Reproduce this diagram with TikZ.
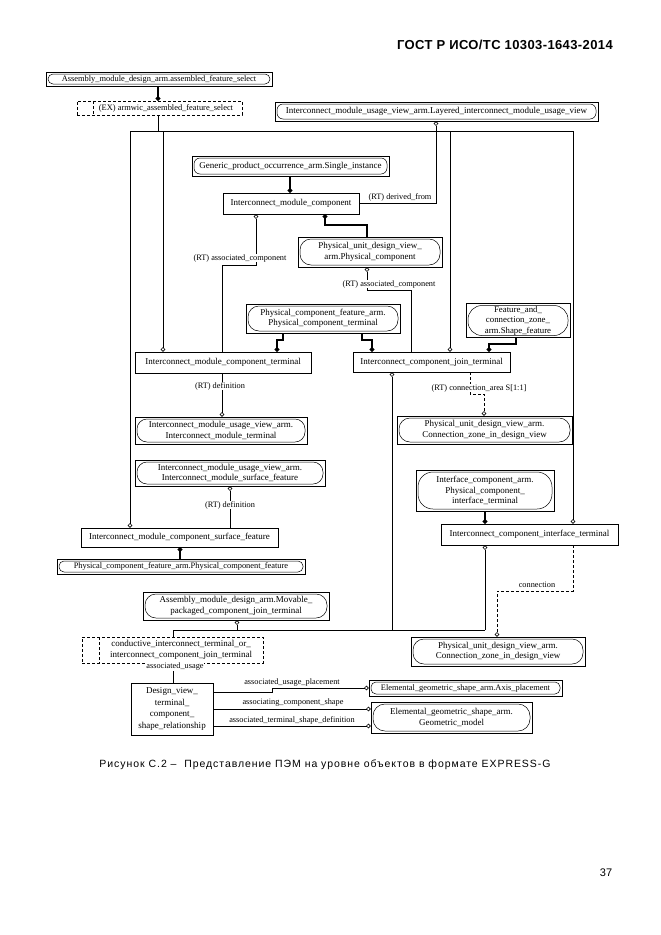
\documentclass[tikz,border=0pt]{standalone}
\usepackage{fontspec}
\setmainfont{Liberation Serif}
\newfontfamily\hdrfont[LetterSpace=3]{Liberation Sans}
\newfontfamily\pgfont{Liberation Sans}
\newfontfamily\capfont[LetterSpace=9]{Liberation Sans}
\usetikzlibrary{arrows.meta}
\begin{document}
\begin{tikzpicture}[x=1pt,y=-1pt,
  every node/.style={font=\fontsize{9}{10.5}\selectfont, inner sep=0pt, align=center},
  ent/.style={draw, line width=0.6pt, rectangle},
  refb/.style={draw, line width=0.6pt, rectangle,
    path picture={\draw[line width=0.5pt, rounded corners=#1]
      ([shift={(2pt,-2pt)}]path picture bounding box.north west) rectangle
      ([shift={(-2pt,2pt)}]path picture bounding box.south east);}},
  selb/.style={draw, line width=0.6pt, dash pattern=on 3pt off 2pt, rectangle,
    path picture={\draw[line width=0.6pt, dash pattern=on 3pt off 2pt]
      ([xshift=#1]path picture bounding box.north west) --
      ([xshift=#1]path picture bounding box.south west);}},
  thin/.style={line width=0.6pt},
  thk/.style={line width=1.5pt},
  dsh/.style={line width=0.6pt, dash pattern=on 3pt off 2pt},
  oc/.style={-{Circle[open,length=4.5pt,width=4.5pt]}},
  lbl/.style={font=\fontsize{8.3}{9}\selectfont, fill=white, inner sep=0.6pt},
  small/.style={font=\fontsize{8.4}{10}\selectfont}
]
\useasboundingbox[fill=white] (0,0) rectangle (661,935);

% header, caption, page number
\node[font=\hdrfont\bfseries\fontsize{13}{15}\selectfont, anchor=east] (hdr) at (613,45) {ГОСТ Р ИСО/ТС 10303-1643-2014};
\node[font=\capfont\fontsize{10.5}{12}\selectfont] (cap) at (325,765) {Рисунок С.2 –\ \ Представление ПЭМ на уровне объектов в формате EXPRESS-G};
\node[font=\pgfont\fontsize{11}{12}\selectfont] (pg) at (606,873) {37};

% boxes
\node[refb=5pt, small, minimum width=226pt, minimum height=14pt] (amd) at (159,79) {Assembly\_module\_design\_arm.assembled\_feature\_select};
\node[selb=16pt, minimum width=165pt, minimum height=14pt] (ex) at (159.5,108) {};
\node[small] (ext) at (166,108) {(EX) armwic\_assembled\_feature\_select};
\node[refb=6pt, minimum width=323pt, minimum height=19pt] (lay) at (436.5,111.5) {Interconnect\_module\_usage\_view\_arm.Layered\_interconnect\_module\_usage\_view};
\node[refb=6pt, minimum width=197pt, minimum height=20pt] (gpo) at (290.5,166) {Generic\_product\_occurrence\_arm.Single\_instance};
\node[ent, minimum width=136pt, minimum height=21pt] (imc) at (291,203.5) {Interconnect\_module\_component};
\node[refb=11pt, minimum width=144pt, minimum height=30pt] (pudv) at (370,252) {Physical\_unit\_design\_view\_\\arm.Physical\_component};
\node[refb=11pt, minimum width=154pt, minimum height=29pt] (pcft) at (323,318.5) {Physical\_component\_feature\_arm.\\Physical\_component\_terminal};
\node[refb=14pt, minimum width=104pt, minimum height=34pt, font=\fontsize{8.8}{10.5}\selectfont] (fcz) at (518,320.5) {Feature\_and\_\\connection\_zone\_\\arm.Shape\_feature};
\node[ent, minimum width=176pt, minimum height=21pt] (imct) at (223,362.5) {Interconnect\_module\_component\_terminal};
\node[ent, minimum width=157pt, minimum height=20pt] (icjt) at (431.5,362) {Interconnect\_component\_join\_terminal};
\node[refb=10pt, minimum width=172pt, minimum height=27pt] (imut) at (221,430.5) {Interconnect\_module\_usage\_view\_arm.\\Interconnect\_module\_terminal};
\node[refb=11pt, minimum width=175pt, minimum height=28pt] (cz1) at (484.5,430) {Physical\_unit\_design\_view\_arm.\\Connection\_zone\_in\_design\_view};
\node[refb=10pt, minimum width=190pt, minimum height=26pt] (imsf) at (230,473) {Interconnect\_module\_usage\_view\_arm.\\Interconnect\_module\_surface\_feature};
\node[refb=15pt, minimum width=138pt, minimum height=41pt] (ica) at (485,490.5) {Interface\_component\_arm.\\Physical\_component\_\\interface\_terminal};
\node[ent, minimum width=197pt, minimum height=19pt] (imcsf) at (179.5,537.5) {Interconnect\_module\_component\_surface\_feature};
\node[ent, minimum width=177pt, minimum height=21pt] (icit) at (529.5,534.5) {Interconnect\_component\_interface\_terminal};
\node[refb=5pt, small, minimum width=248pt, minimum height=15pt] (pcfp) at (181,566.5) {Physical\_component\_feature\_arm.Physical\_component\_feature};
\node[refb=11pt, minimum width=186pt, minimum height=28pt] (mov) at (236,606) {Assembly\_module\_design\_arm.Movable\_\\packaged\_component\_join\_terminal};
\node[selb=17pt, minimum width=181pt, minimum height=26pt] (sel) at (172.5,650) {};
\node (selt) at (181,650) {conductive\_interconnect\_terminal\_or\_\\interconnect\_component\_join\_terminal};
\node[refb=11pt, minimum width=174pt, minimum height=29pt] (cz2) at (498,651.5) {Physical\_unit\_design\_view\_arm.\\Connection\_zone\_in\_design\_view};
\node[ent, minimum width=82pt, minimum height=52pt, font=\fontsize{9}{11.5}\selectfont] (dvt) at (172,709) {Design\_view\_\\terminal\_\\component\_\\shape\_relationship};
\node[refb=5pt, small, minimum width=193pt, minimum height=16pt] (egsap) at (465.5,688) {Elemental\_geometric\_shape\_arm.Axis\_placement};
\node[refb=12pt, minimum width=161pt, minimum height=31pt] (egsgm) at (451.5,717.5) {Elemental\_geometric\_shape\_arm.\\Geometric\_model};

% thick supertype/subtype lines
\draw[thk,oc] (amd.south -| 158,0) -- (ex.north -| 158,0);
\draw[thk,oc] (gpo.south -| 290,0) -- (imc.north -| 290,0);
\draw[thk,oc] (pudv.north -| 367,0) |- (325,225) -- (imc.south -| 325,0);
\draw[thk,oc] (pcft.south -| 283,0) |- (277,340) -- (imct.north -| 277,0);
\draw[thk,oc] (pcft.south -| 362,0) |- (372,340) -- (icjt.north -| 372,0);
\draw[thk,oc] (fcz.south -| 516,0) |- (489,344) -- (icjt.north -| 489,0);
\draw[thk,oc] (pcfp.north -| 180,0) -- (imcsf.south -| 180,0);
\draw[thk,oc] (ica.south -| 485,0) -- (icit.north -| 485,0);

% top bus from select
\coordinate (tb) at (158,131);
\coordinate (tbl) at (130,131);
\coordinate (tbr) at (573,131);
\draw[thin] (ex.south -| tb) -- (tb);
\draw[thin] (tbl) -- (tbr);
\draw[thin,oc] (tbl) -- (imcsf.north -| tbl);
\draw[thin,oc] (163,131) -- (imct.north -| 163,0);
\draw[thin,oc] (450,131) -- (icjt.north -| 450,0);
\draw[thin,oc] (tbr) -- (icit.north -| tbr);

% attributes
\draw[thin,oc] (imc.east) -| (lay.south -| 436,0);
\node[lbl] (l1) at (400,197) {(RT) derived\_from};
\draw[thin,oc] (imct.north -| 222,0) |- (256,265) -- (imc.south -| 256,0);
\node[lbl] (l2) at (240,258) {(RT) associated\_component};
\draw[thin,oc] (icjt.north -| 411,0) |- (367,290) -- (pudv.south -| 367,0);
\node[lbl] (l3) at (389,284) {(RT) associated\_component};
\draw[thin,oc] (imct.south -| 222,0) -- (imut.north -| 222,0);
\node[lbl] (l4) at (220,386) {(RT) definition};
\draw[dsh,oc] (icjt.south -| 470,0) |- (484,394) -- (cz1.north -| 484,0);
\node[lbl] (l5) at (479,388) {(RT) connection\_area S[1:1]};
\draw[thin,oc] (imcsf.north -| 230,0) -- (imsf.south -| 230,0);
\node[lbl] (l6) at (230,505) {(RT) definition};

% bottom bus
\coordinate (bbl) at (173,630);
\coordinate (bbr) at (485,630);
\draw[thin] (bbl) -- (bbr);
\draw[thin] (bbl) -- (sel.north -| bbl);
\draw[thin,oc] (392,630) -- (icjt.south -| 392,0);
\draw[thin,oc] (bbr) -- (icit.south -| bbr);
\draw[thin,oc] (237,630) -- (mov.south -| 237,0);

\draw[dsh,oc] (icit.south -| 573,0) |- (497,591) -- (cz2.north -| 497,0);
\node[lbl] (l7) at (537,585) {connection};

\draw[thin] (sel.south -| 173,0) -- (dvt.north -| 173,0);
\node[lbl] (l8) at (175,667) {associated\_usage};

\draw[thin,oc] (dvt.east |- 0,692) -- (272,692) -- (272,688) -- (egsap.west |- 0,688);
\node[lbl,fill=none] (l9) at (292,683) {associated\_usage\_placement};
\draw[thin,oc] (dvt.east |- 0,709) -- (egsgm.west |- 0,709);
\node[lbl,fill=none] (l10) at (293,703) {associating\_component\_shape};
\draw[thin,oc] (dvt.east |- 0,726) -- (egsgm.west |- 0,726);
\node[lbl,fill=none] (l11) at (292,720) {associated\_terminal\_shape\_definition};
\end{tikzpicture}
\end{document}
